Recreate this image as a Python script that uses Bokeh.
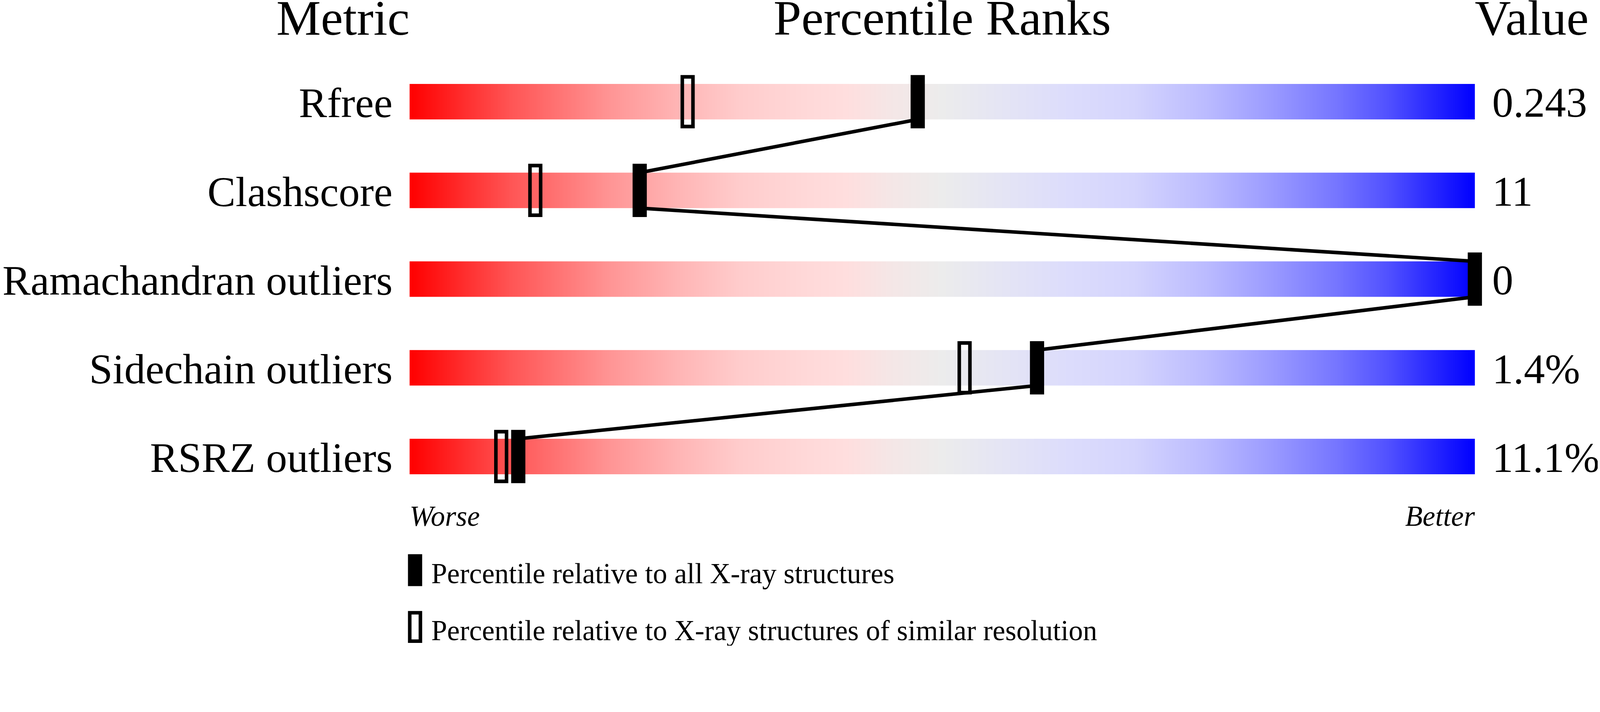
import numpy as np
from bokeh.plotting import figure
from bokeh.models import Range1d
from bokeh.core.properties import value
from bokeh.embed import file_html
from bokeh.resources import INLINE

# ---------------- data ----------------
metrics = ["Rfree", "Clashscore", "Ramachandran outliers", "Sidechain outliers", "RSRZ outliers"]
metric_values = ["0.243", "11", "0", "1.4%", "11.1%"]
pct_all_xray = [47.7, 21.6, 100.0, 58.9, 10.2]
pct_similar_res = [26.1, 11.8, None, 52.1, 8.6]
header_labels = ["Metric", "Percentile Ranks", "Value"]
scale_labels = ["Worse", "Better"]
legend_labels = ["Percentile relative to all X-ray structures",
                 "Percentile relative to X-ray structures of similar resolution"]

# gradient colour stops (styling of the slider bars)
grad_pos = [0, 9.5, 19, 25, 31, 37, 41, 45, 50, 56, 62, 68, 75, 81, 87, 92, 96, 100]
grad_r = [255, 255, 255, 255, 255, 255, 255, 245, 236, 228, 220, 212, 186, 154, 118, 80, 40, 0]
grad_g = [0, 85, 150, 180, 204, 216, 222, 230, 236, 228, 220, 212, 186, 154, 118, 80, 40, 0]
grad_b = [0, 85, 150, 180, 204, 216, 222, 230, 236, 245, 252, 253, 255, 255, 255, 255, 255, 255]

# ---------------- layout ----------------
S = 4506 / 4096                      # picture pixels per CSS pixel
W = 4090
H = 1654
PX_PER_PCT = 30.0 / S
X0 = 1153 / S                        # figure pixel of percentile 0
ROW = 250.0 / S                      # pixels between rows
Y0 = 286 / S                         # figure pixel of first row centre
BAR_H = 0.4
LW = 10 / S
FONT = value("Liberation Serif")


def base(u, size, shift=0.39):
    """data-y for a text whose baseline should sit at u"""
    return u + shift * size / ROW


p = figure(width=W, height=H,
           x_range=Range1d(-X0 / PX_PER_PCT, (W - X0) / PX_PER_PCT),
           y_range=Range1d(-(H - Y0) / ROW, Y0 / ROW),
           output_backend="svg", toolbar_location=None, min_border=0,
           x_axis_location=None, y_axis_location=None)
p.grid.visible = False
p.outline_line_color = None
p.background_fill_color = "white"
p.border_fill_color = "white"

n = len(metrics)
rows = np.arange(n)
ypos = -rows.astype(float)

# gradient bars
N = 1500
t = np.linspace(0, 100, N)
img = np.empty((1, N), dtype=np.uint32)
view = img.view(dtype=np.uint8).reshape((1, N, 4))
view[0, :, 0] = np.round(np.interp(t, grad_pos, grad_r)).astype(np.uint8)
view[0, :, 1] = np.round(np.interp(t, grad_pos, grad_g)).astype(np.uint8)
view[0, :, 2] = np.round(np.interp(t, grad_pos, grad_b)).astype(np.uint8)
view[0, :, 3] = 255
p.image_rgba(image=[img] * n, x=[0] * n, y=list(ypos - BAR_H / 2),
             dw=[100] * n, dh=[BAR_H] * n)

# connecting lines between the "all X-ray" markers
p.segment(x0=pct_all_xray[:-1], y0=list(ypos[:-1] - BAR_H / 2),
          x1=pct_all_xray[1:], y1=list(ypos[1:] + BAR_H / 2),
          line_color="black", line_width=LW, line_cap="butt")

# similar-resolution markers (open)
sx = [v for v in pct_similar_res if v is not None]
sy = [ypos[i] for i, v in enumerate(pct_similar_res) if v is not None]
p.rect(x=sx, y=sy, width=30 / S, width_units="screen", height=0.56,
       fill_alpha=0, line_color="black", line_width=LW, line_join="miter")

# all X-ray markers (filled)
p.rect(x=pct_all_xray, y=list(ypos), width=40 / S, width_units="screen", height=0.6,
       fill_color="black", line_color=None)

# headers
TS = 128
for lbl, xx, al in zip(header_labels, [0, 50, 100], ["right", "center", "left"]):
    p.text(x=[xx], y=[base(0.76, TS, 0.33)], text=[lbl], text_align=al,
           text_baseline="alphabetic", text_font=FONT, text_font_size=f"{TS}px",
           text_color="black")

# metric names and values
LS = 108
p.text(x=[-1.6] * n, y=[base(v, LS) for v in ypos - BAR_H / 2], text=metrics, text_align="right",
       text_baseline="alphabetic", text_font=FONT, text_font_size=f"{LS}px", text_color="black")
p.text(x=[101.63] * n, y=[base(v, LS) for v in ypos - BAR_H / 2], text=metric_values,
       text_align="left", text_baseline="alphabetic", text_font=FONT,
       text_font_size=f"{LS}px", text_color="black")

# Worse / Better
SS = 73
p.text(x=[0], y=[base(-4.8, SS)], text=[scale_labels[0]], text_align="left",
       text_baseline="alphabetic", text_font=FONT, text_font_size=f"{SS}px",
       text_font_style="italic", text_color="black")
p.text(x=[100], y=[base(-4.8, SS)], text=[scale_labels[1]], text_align="right",
       text_baseline="alphabetic", text_font=FONT, text_font_size=f"{SS}px",
       text_font_style="italic", text_color="black")

# legend
p.rect(x=[0.513], y=[-5.281], width=40 / S, width_units="screen", height=0.36,
       fill_color="black", line_color=None)
p.rect(x=[0.513], y=[-5.9216], width=30 / S, width_units="screen", height=0.32,
       fill_alpha=0, line_color="black", line_width=LW, line_join="miter")
p.text(x=[2.03, 2.03], y=[base(-5.445, SS), base(-6.087, SS)], text=legend_labels,
       text_align="left", text_baseline="alphabetic", text_font=FONT,
       text_font_size=f"{SS}px", text_color="black")

open("out.html", "w").write(file_html(p, INLINE))
